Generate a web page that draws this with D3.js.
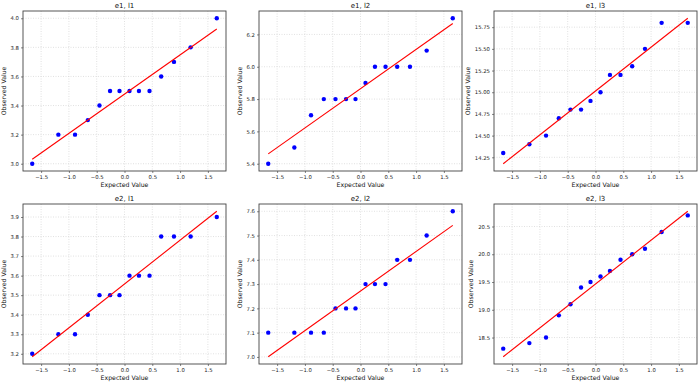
<!DOCTYPE html>
<html>
<head>
<meta charset="utf-8">
<script src="https://cdn.jsdelivr.net/npm/d3@7"></script>
<style>
  body { margin: 0; background: #fff; }
  svg { font-family: "DejaVu Sans", sans-serif; display: block; }
</style>
</head>
<body>
<svg id="chart" width="700" height="385"></svg>
<script>
/*
    DATA
*/
// theoretical normal quantiles (read from the x positions of the points)
var expected = [-1.66, -1.19, -0.89, -0.66, -0.45, -0.26, -0.09, 0.09, 0.26, 0.45, 0.66, 0.89, 1.19, 1.66];

var titles = ["e1, l1", "e1, l2", "e1, l3", "e2, l1", "e2, l2", "e2, l3"];

var obs_e1_l1 = [3.0, 3.2, 3.2, 3.3, 3.4, 3.5, 3.5, 3.5, 3.5, 3.5, 3.6, 3.7, 3.8, 4.0];
var obs_e1_l2 = [5.4, 5.5, 5.7, 5.8, 5.8, 5.8, 5.8, 5.9, 6.0, 6.0, 6.0, 6.0, 6.1, 6.3];
var obs_e1_l3 = [14.3, 14.4, 14.5, 14.7, 14.8, 14.8, 14.9, 15.0, 15.2, 15.2, 15.3, 15.5, 15.8, 15.8];
var obs_e2_l1 = [3.2, 3.3, 3.3, 3.4, 3.5, 3.5, 3.5, 3.6, 3.6, 3.6, 3.8, 3.8, 3.8, 3.9];
var obs_e2_l2 = [7.1, 7.1, 7.1, 7.1, 7.2, 7.2, 7.2, 7.3, 7.3, 7.3, 7.4, 7.4, 7.5, 7.6];
var obs_e2_l3 = [18.3, 18.4, 18.5, 18.9, 19.1, 19.4, 19.5, 19.6, 19.7, 19.9, 20.0, 20.1, 20.4, 20.7];

var observed = [obs_e1_l1, obs_e1_l2, obs_e1_l3, obs_e2_l1, obs_e2_l2, obs_e2_l3];

var xTicks = [-1.5, -1.0, -0.5, 0.0, 0.5, 1.0, 1.5];
var yTicks = [
  [3.0, 3.2, 3.4, 3.6, 3.8, 4.0],
  [5.4, 5.6, 5.8, 6.0, 6.2],
  [14.25, 14.5, 14.75, 15.0, 15.25, 15.5, 15.75],
  [3.2, 3.3, 3.4, 3.5, 3.6, 3.7, 3.8, 3.9],
  [7.0, 7.1, 7.2, 7.3, 7.4, 7.5, 7.6],
  [18.5, 19.0, 19.5, 20.0, 20.5]
];
var yDecimals = [1, 1, 2, 1, 1, 1];

/*
    LAYOUT
*/
var colLeft = [23, 259, 494];
var rowTop = [11, 204];
var pw = 203, ph = 160;

var svg = d3.select("#chart");

// least squares fit, like the probplot line
function fitLine(xs, ys) {
  var mx = d3.mean(xs), my = d3.mean(ys);
  var sxy = 0, sxx = 0;
  xs.forEach(function(x, i) { sxy += (x - mx) * (ys[i] - my); sxx += (x - mx) * (x - mx); });
  var slope = sxy / sxx;
  return function(x) { return my + slope * (x - mx); };
}

function minus(s) { return s.replace("-", "\u2212"); }

observed.forEach(function(ys, k) {
  var left = colLeft[k % 3], top = rowTop[Math.floor(k / 3)];
  var g = svg.append("g").attr("transform", "translate(" + left + "," + top + ")");

  var fit = fitLine(expected, ys);
  var xmin = d3.min(expected), xmax = d3.max(expected);
  var lineY = [fit(xmin), fit(xmax)];

  var xpad = (xmax - xmin) * 0.05;
  var ylo = Math.min(d3.min(ys), d3.min(lineY)), yhi = Math.max(d3.max(ys), d3.max(lineY));
  var ypad = (yhi - ylo) * 0.05;

  var x = d3.scaleLinear().domain([xmin - xpad, xmax + xpad]).range([0, pw]);
  var y = d3.scaleLinear().domain([ylo - ypad, yhi + ypad]).range([ph, 0]);

  // grid
  g.selectAll(".gx").data(xTicks).enter().append("line")
    .attr("x1", function(d) { return x(d); }).attr("x2", function(d) { return x(d); })
    .attr("y1", 0).attr("y2", ph)
    .attr("stroke", "#d4d4d4").attr("stroke-width", 0.7).attr("stroke-dasharray", "1,1.5");
  g.selectAll(".gy").data(yTicks[k]).enter().append("line")
    .attr("y1", function(d) { return y(d); }).attr("y2", function(d) { return y(d); })
    .attr("x1", 0).attr("x2", pw)
    .attr("stroke", "#d4d4d4").attr("stroke-width", 0.7).attr("stroke-dasharray", "1,1.5");

  // axes
  var xAxis = g.append("g").attr("transform", "translate(0," + ph + ")")
    .call(d3.axisBottom(x).tickValues(xTicks).tickSize(2).tickPadding(2)
      .tickFormat(function(d) { return minus(d3.format(".1f")(d)); }));
  var yAxis = g.append("g")
    .call(d3.axisLeft(y).tickValues(yTicks[k]).tickSize(2).tickPadding(2)
      .tickFormat(function(d) { return d3.format("." + yDecimals[k] + "f")(d); }));
  [xAxis, yAxis].forEach(function(a) {
    a.select(".domain").remove();
    a.selectAll("line").attr("stroke", "#333").attr("stroke-width", 0.6);
    a.selectAll("text").attr("font-size", 5.3).attr("fill", "#222")
      .attr("font-family", "DejaVu Sans, sans-serif");
  });

  // points then fit line
  g.selectAll(".pt").data(ys).enter().append("circle")
    .attr("cx", function(d, i) { return x(expected[i]); })
    .attr("cy", function(d) { return y(d); })
    .attr("r", 2.2)
    .attr("fill", "#0000ff");

  g.append("line")
    .attr("x1", x(xmin)).attr("y1", y(lineY[0]))
    .attr("x2", x(xmax)).attr("y2", y(lineY[1]))
    .attr("stroke", "#ff0000").attr("stroke-width", 1.1);

  // frame
  g.append("rect").attr("width", pw).attr("height", ph)
    .attr("fill", "none").attr("stroke", "#444").attr("stroke-width", 0.9);

  // title and labels
  g.append("text").attr("x", pw / 2).attr("y", -3.5)
    .attr("text-anchor", "middle").attr("font-size", 7).attr("fill", "#111")
    .text(titles[k]);
  g.append("text").attr("x", pw / 2).attr("y", ph + 16)
    .attr("text-anchor", "middle").attr("font-size", 6.2).attr("fill", "#111")
    .text("Expected Value");

  var maxW = 0;
  yAxis.selectAll("text").each(function() { maxW = Math.max(maxW, this.getComputedTextLength()); });
  var lx = -4 - maxW - 5;
  g.append("text").attr("transform", "translate(" + lx + "," + (ph / 2) + ") rotate(-90)")
    .attr("text-anchor", "middle").attr("font-size", 6.2).attr("fill", "#111")
    .text("Observed Value");
});
</script>
</body>
</html>
